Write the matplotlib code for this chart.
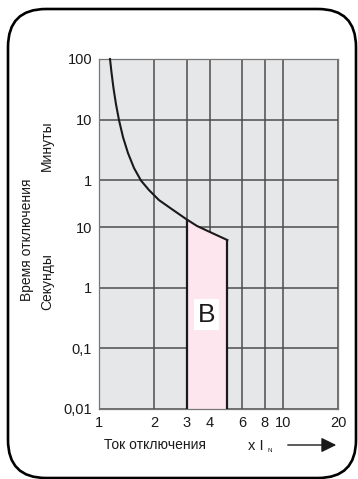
import matplotlib
matplotlib.use("Agg")
import matplotlib.pyplot as plt
from matplotlib.patches import FancyBboxPatch, FancyArrowPatch
from matplotlib.transforms import IdentityTransform

plt.rcParams['font.family'] = ['Liberation Sans', 'DejaVu Sans']

# ---- data ----
x_ticks = [1, 2, 3, 4, 6, 8, 10, 20]
x_labels = ["1", "2", "3", "4", "6", "8", "10", "20"]
y_ticks = [0.01, 0.1, 1, 10, 60, 600, 6000]          # seconds
y_labels = ["0,01", "0,1", "1", "10", "1", "10", "100"]
curve_x = [1.148, 1.170, 1.199, 1.237, 1.285, 1.351, 1.438, 1.551, 1.693,
           1.872, 2.121, 2.488, 3.0, 3.417, 4.0, 5.0]
curve_t = [6000, 3570, 1982, 1079, 587, 308, 168, 95, 59,
           41.1, 28.1, 20.0, 13.5, 10.5, 8.4, 6.15]
band_x = [3.0, 3.417, 4.0, 5.0]
band_t = [13.5, 10.5, 8.4, 6.15]
band_label = "B"

W, H = 358, 479
fig = plt.figure(figsize=(W / 100, H / 100), dpi=100)

def fx(px):
    return px / W

def fy(py):
    return 1 - py / H

L, R, T, B = 99, 338, 59, 409
ax = fig.add_axes([fx(L), fy(B), fx(R) - fx(L), fy(T) - fy(B)])
ax.set_facecolor('#e6e7e8')
ax.set_xscale('log')
ax.set_yscale('log')
ax.set_xlim(1, 20)
ax.set_ylim(0.01, 6000)
ax.set_xticks(x_ticks)
ax.set_xticklabels(x_labels)
ax.set_yticks(y_ticks)
ax.set_yticklabels(y_labels)
ax.minorticks_off()
ax.tick_params(length=0, labelsize=10.5, pad=5, colors='#1a1a1a')
ax.set_axisbelow(True)
ax.grid(True, color='#4d4d4d', lw=1.1)
for s in ax.spines.values():
    s.set_color('#777777')
    s.set_linewidth(0.9)

# band
ax.fill_between(band_x, [0.01] * len(band_x), band_t, color='#fde6ee', zorder=2, lw=0)
ax.plot([band_x[0], band_x[0]], [0.01, band_t[0]], color='#1a1a1a', lw=1.6, zorder=3, solid_capstyle='butt')
ax.plot([band_x[-1], band_x[-1]], [0.01, band_t[-1]], color='#1a1a1a', lw=1.6, zorder=3, solid_capstyle='butt')
ax.plot(curve_x, curve_t, color='#1a1a1a', lw=1.5, zorder=4, clip_on=False, solid_joinstyle='round')
ax.text(3.85, 0.36, band_label, fontsize=19, ha='center', va='center', zorder=5,
        color='#1a1a1a', bbox=dict(facecolor='white', edgecolor='none', pad=2.5))

# labels
fig.text(fx(27), fy(240), "Время отключения", rotation=90, ha='center', va='center', fontsize=10, color='#1a1a1a')
fig.text(fx(47), fy(146), "Минуты", rotation=90, ha='center', va='center', fontsize=10, color='#1a1a1a')
fig.text(fx(47), fy(282), "Секунды", rotation=90, ha='center', va='center', fontsize=10, color='#1a1a1a')
fig.text(fx(155), fy(445), "Ток отключения", ha='center', va='center', fontsize=10, color='#1a1a1a')
fig.text(fx(248), fy(446), "x I", ha='left', va='center', fontsize=10.5, color='#1a1a1a')
fig.text(fx(268), fy(450), "N", ha='left', va='center', fontsize=4.5, color='#1a1a1a')
fig.patches.append(FancyArrowPatch(
    (fx(285), fy(445)), (fx(339), fy(445)), transform=fig.transFigure,
    arrowstyle='-|>,head_length=0.65,head_width=0.32', mutation_scale=14,
    color='#1a1a1a', lw=1.0))

# rounded border
border = FancyBboxPatch((8, H - 478), 348, 469, boxstyle="round,pad=0,rounding_size=38",
                        transform=IdentityTransform(), fill=False, edgecolor='black', lw=1.9)
fig.patches.append(border)

fig.savefig("out.png", dpi=100)
